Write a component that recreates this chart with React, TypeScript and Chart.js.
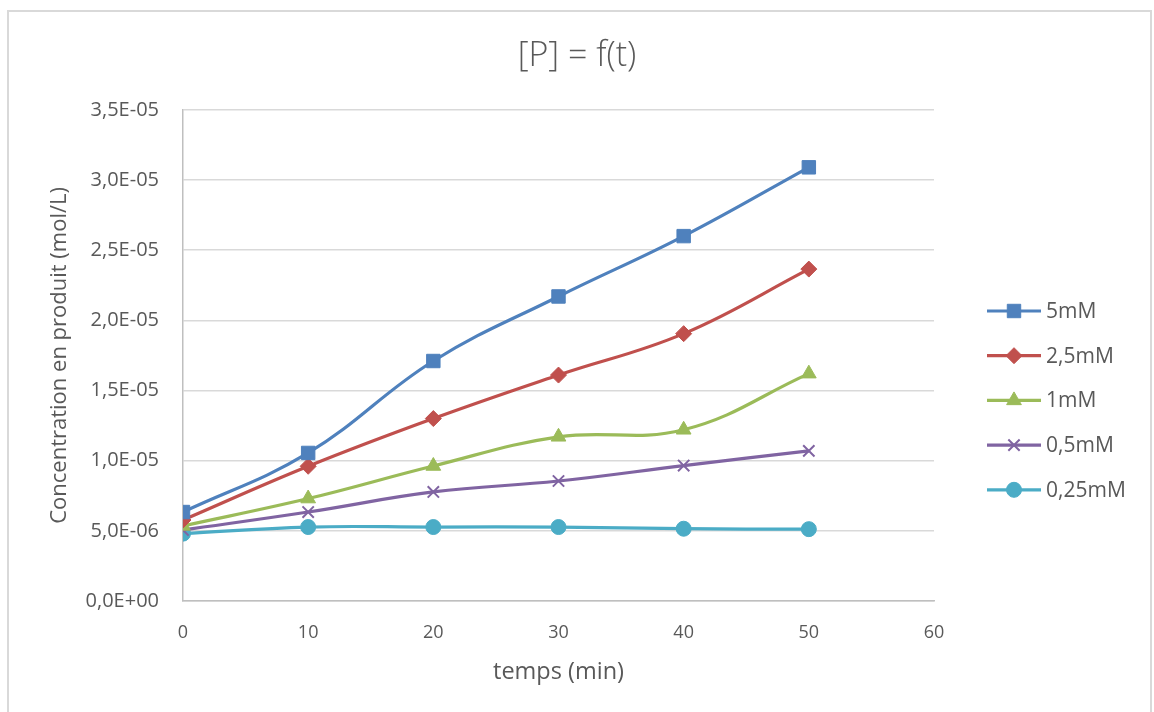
import React, { useEffect, useRef } from "react";
import { Chart, registerables } from "chart.js";
import { drawPoint } from "chart.js/helpers";

Chart.register(...registerables);

const times = [0, 10, 20, 30, 40, 50];
const seriesNames = ["5mM", "2,5mM", "1mM", "0,5mM", "0,25mM"];
const s5mM = [6.34e-6, 1.055e-5, 1.71e-5, 2.17e-5, 2.6e-5, 3.09e-5];
const s2_5mM = [5.77e-6, 9.6e-6, 1.3e-5, 1.61e-5, 1.905e-5, 2.365e-5];
const s1mM = [5.35e-6, 7.3e-6, 9.62e-6, 1.17e-5, 1.22e-5, 1.62e-5];
const s0_5mM = [5.06e-6, 6.34e-6, 7.77e-6, 8.55e-6, 9.65e-6, 1.07e-5];
const s0_25mM = [4.8e-6, 5.27e-6, 5.27e-6, 5.27e-6, 5.15e-6, 5.12e-6];
const yTickLabels = ["0,0E+00", "5,0E-06", "1,0E-05", "1,5E-05", "2,0E-05", "2,5E-05", "3,0E-05", "3,5E-05"];

const colors = ["#4F81BD", "#C0504D", "#9BBB59", "#8064A2", "#4BACC6"];
const styles = ["rect", "rectRot", "triangle", "crossRot", "circle"];
const radii = [9.5, 8, 8.5, 8, 7.5];
const values = [s5mM, s2_5mM, s1mM, s0_5mM, s0_25mM];

const FONT = "'Open Sans', 'Noto Sans', sans-serif";

const legendPlugin = {
  id: "excelLegend",
  afterDraw(chart: any) {
    const ctx = chart.ctx;
    ctx.save();
    chart.data.datasets.forEach((ds: any, i: number) => {
      const y = 311 + i * 44.7;
      ctx.strokeStyle = ds.borderColor;
      ctx.lineWidth = 3.2;
      ctx.beginPath();
      ctx.moveTo(987, y);
      ctx.lineTo(1041, y);
      ctx.stroke();
      ctx.fillStyle = ds.pointBackgroundColor;
      ctx.strokeStyle = ds.pointBorderColor;
      ctx.lineWidth = ds.pointBorderWidth;
      drawPoint(ctx, { pointStyle: ds.pointStyle, radius: ds.pointRadius, rotation: 0, borderWidth: ds.pointBorderWidth }, 1014, y);
      ctx.fillStyle = "#595959";
      ctx.font = `21px ${FONT}`;
      ctx.textAlign = "left";
      ctx.textBaseline = "middle";
      ctx.fillText(ds.label, 1046, y + 1);
    });
    ctx.restore();
  },
};

export default function App() {
  const ref = useRef<HTMLCanvasElement>(null);
  useEffect(() => {
    if (!ref.current) return;
    const chart = new Chart(ref.current, {
      type: "line",
      data: {
        datasets: seriesNames.map((name, i) => ({
          label: name,
          data: times.map((t, j) => ({ x: t, y: values[i][j] })),
          borderColor: colors[i],
          backgroundColor: colors[i],
          borderWidth: 3.2,
          pointStyle: styles[i] as any,
          pointRadius: radii[i],
          pointHoverRadius: radii[i],
          pointBackgroundColor: colors[i],
          pointBorderColor: colors[i],
          pointBorderWidth: styles[i] === "crossRot" ? 2 : 1,
          tension: 0.4,
          fill: false,
        })),
      },
      options: {
        animation: false,
        responsive: false,
        maintainAspectRatio: false,
        layout: { padding: { left: 0, right: 0, top: 0, bottom: 0 } },
        plugins: {
          legend: { display: false },
          tooltip: { enabled: false },
          title: {
            display: true,
            text: "[P] = f(t)",
            color: "#595959",
            font: { family: FONT, size: 34, weight: 300 as any, lineHeight: 1.2 },
            padding: { top: 36, bottom: 33 },
          },
        },
        scales: {
          x: {
            type: "linear",
            min: 0,
            max: 60,
            ticks: { stepSize: 10, color: "#595959", font: { family: FONT, size: 18 }, padding: 21 },
            grid: { display: true, drawOnChartArea: false, drawTicks: false },
            border: { display: true, color: "#BFBFBF", width: 1.5 },
            title: {
              display: true,
              text: "temps (min)",
              color: "#595959",
              font: { family: FONT, size: 23.5, lineHeight: 1.2 },
              padding: { top: 0, bottom: 26 },
            },
            afterFit(scale: any) {
              scale.height = 111;
            },
          },
          y: {
            min: 0,
            max: 3.5e-5,
            ticks: {
              stepSize: 5e-6,
              color: "#595959",
              font: { family: FONT, size: 20 },
              padding: 24,
              callback: (_v: any, idx: number) => yTickLabels[idx],
            },
            grid: { color: "#D9D9D9", lineWidth: 1.5, drawTicks: false },
            border: { display: true, color: "#BFBFBF", width: 1.5 },
            title: {
              display: true,
              text: "Concentration en produit (mol/L)",
              color: "#595959",
              font: { family: FONT, size: 22, lineHeight: 1.2 },
              padding: { top: 47, bottom: 0 },
            },
            afterFit(scale: any) {
              scale.width = 183;
            },
          },
          legendSpace: {
            type: "linear",
            position: "right",
            display: true,
            ticks: { display: false },
            grid: { display: false, drawTicks: false },
            border: { display: false },
            afterFit(scale: any) {
              scale.width = 220;
            },
          },
        },
      },
      plugins: [legendPlugin],
    });
    return () => chart.destroy();
  }, []);
  return (
    <div style={{ position: "fixed", left: 0, top: 0, width: 1154, height: 712, background: "#fff", overflow: "hidden" }}>
      <div
        style={{
          position: "absolute",
          left: 7,
          top: 10,
          width: 1145,
          height: 720,
          border: "2px solid #D9D9D9",
          boxSizing: "border-box",
        }}
      />
      <canvas ref={ref} width={1154} height={712} style={{ position: "absolute", left: 0, top: 0, width: 1154, height: 712 }} />
    </div>
  );
}
